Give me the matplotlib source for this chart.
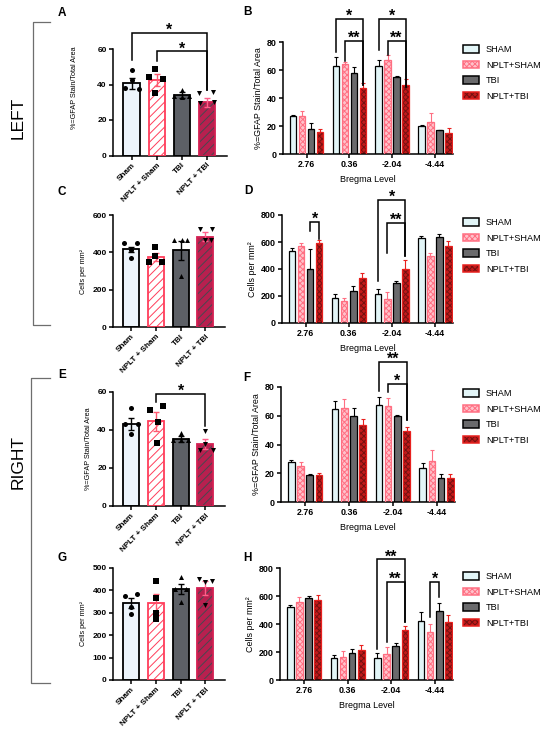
import numpy as np
import matplotlib.pyplot as plt
from matplotlib.patches import Patch
from matplotlib.legend_handler import HandlerTuple

plt.rcParams['font.family'] = ['Liberation Sans', 'DejaVu Sans']
plt.rcParams['font.weight'] = 'bold'
plt.rcParams['hatch.linewidth'] = 0.7

W, H = 550, 736

# ---------------- data ----------------
groups = ['Sham', 'NPLT + Sham', 'TBI', 'NPLT + TBI']
series = ['SHAM', 'NPLT+SHAM', 'TBI', 'NPLT+TBI']
bregma = ['2.76', '0.36', '-2.04', '-4.44']

# A: left, %GFAP area
a_mean = [40.6, 42.5, 34.0, 30.0]
a_sem = [3.0, 3.2, 1.5, 2.6]
a_pts = [[48, 42.5, 38, 37.5], [49, 44, 43, 35], [37, 33.5, 33, 33.5], [35, 35.5, 29.5, 30]]
# C: left, cells per mm2
c_mean = [416, 373, 410, 484]
c_sem = [14, 21, 50, 23]
c_pts = [[448, 448, 412, 371], [430, 383, 348, 348], [466, 466, 466, 274], [523, 525, 466, 464]]
# E: right, %GFAP area
e_mean = [43.1, 44.5, 35.4, 32.7]
e_sem = [3.2, 4.8, 1.6, 2.5]
e_pts = [[51.5, 43, 43, 38], [50.7, 52.4, 44.2, 33.1], [38.5, 35, 35, 35], [39.6, 29.6, 29.6, 32.7]]
# G: right, cells per mm2
g_mean = [343, 343, 406, 410]
g_sem = [23, 41, 24, 30]
g_pts = [[373, 385, 328, 296], [440, 366, 299, 273], [460, 407, 405, 348], [451, 437, 440, 336]]

# B / D / F / H: rows = series, columns = bregma level
b_mean = [[27, 63, 63, 20], [27, 64, 67, 23], [18, 58, 55, 17], [16, 47, 49, 15]]
b_sem = [[1, 6, 4, 1], [4, 2, 4, 6], [4, 4, 0.5, 0.5], [2, 3.5, 4.5, 3.5]]
d_mean = [[537, 185, 214, 633], [571, 160, 177, 493], [399, 234, 293, 635], [591, 333, 399, 574]]
d_sem = [[22, 29, 37, 12], [20, 25, 52, 29], [148, 42, 20, 23], [22, 36, 64, 34]]
f_mean = [[27.8, 64.9, 67.7, 23.9], [24.8, 65.6, 66.8, 28.5], [19, 59.8, 59.8, 16.9], [19, 53.8, 49.2, 16.9]]
f_sem = [[1.6, 5.4, 5.3, 3.5], [3, 5.8, 5.8, 7.5], [0.7, 5.6, 0.5, 2.3], [1.4, 4.2, 3, 2.3]]
h_mean = [[522, 154, 159, 425], [558, 161, 183, 344], [586, 190, 242, 494], [574, 214, 356, 413]]
h_sem = [[17, 24, 31, 62], [35, 45, 54, 55], [12, 35, 19, 59], [31, 35, 29, 50]]

# significance brackets: (bar i, bar j, top, left leg end, right leg end, label)
a_sig = [(0, 3, 69, 54, 37, '*'), (1, 3, 58.7, 53, 37, '*')]
e_sig = [(1, 3, 59, 55, 42, '*')]
# grouped: (bregma index, bar i, bar j, top, left leg end, right leg end, label)
b_sig = [(1, 0, 3, 96.5, 72.5, 49.5, '*'), (1, 1, 3, 81, 66.7, 49.5, '**'),
         (2, 0, 3, 96.5, 74.5, 48, '*'), (2, 1, 3, 81, 71, 48, '**')]
d_sig = [(0, 2, 3, 751, 680, 620, '*'), (2, 0, 3, 911, 308, 493, '*'),
         (2, 1, 3, 744, 522, 493, '**')]
f_sig = [(2, 0, 3, 97.4, 77, 56.8, '**'), (2, 1, 3, 82.3, 76.5, 56.8, '*')]
h_sig = [(2, 0, 3, 862, 225, 415, '**'), (2, 1, 3, 700, 268, 415, '**'),
         (3, 1, 2, 700, 451, 593, '*')]

# ---------------- styles ----------------
simple_style = [
    dict(face='#edf4fb', hatch=None, hcol='#edf4fb', edge='black', err='black'),
    dict(face='white', hatch='////', hcol='#ff3d5a', edge='#ff3d5a', err='#ff5a70'),
    dict(face='#5d6066', hatch=None, hcol='#5d6066', edge='black', err='black'),
    dict(face='#b8204f', hatch='////', hcol='#4a474f', edge='#d41f52', err='#ff5f8a'),
]
group_style = [
    dict(face='#e2f5f7', hatch=None, hcol='#e2f5f7', edge='black', err='black'),
    dict(face='#ffc2cb', hatch='xxxxxx', hcol='#ff6f82', edge='#ff6f82', err='#ff6f82'),
    dict(face='#6a6a6c', hatch=None, hcol='#6a6a6c', edge='black', err='black'),
    dict(face='#c01a1a', hatch='xxxxxx', hcol='#741010', edge='#e8201e', err='#e8201e'),
]
markers = ['o', 's', '^', 'v']
jitter = {
    'A': [[0, 0, -0.28, 0.28], [-0.05, -0.3, 0.25, -0.05], [0, -0.3, 0, 0.3], [-0.3, 0.25, -0.28, 0.28]],
    'C': [[-0.3, 0.23, 0, 0], [-0.03, -0.05, -0.29, 0.24], [-0.27, 0.04, 0.27, 0], [-0.23, 0.28, -0.03, 0.25]],
    'E': [[0, -0.25, 0.28, 0], [-0.24, 0.29, 0.07, 0.04], [0, -0.3, 0, 0.3], [0, -0.2, 0.3, 0]],
    'G': [[-0.27, 0.25, 0, 0], [0, 0, 0, 0], [0, -0.23, 0.23, 0], [-0.27, 0, 0.27, 0]],
}
offs = (np.arange(4) - 1.5) * 0.21


def px(l, t, r, b):
    return [l / W, 1 - b / H, (r - l) / W, (b - t) / H]


def two_layer_bar(ax, x, h, w, st, lw):
    ax.bar(x, h, w, color=st['face'], hatch=st['hatch'], edgecolor=st['hcol'],
           linewidth=0, zorder=2)
    ax.bar(x, h, w, fill=False, edgecolor=st['edge'], linewidth=lw, zorder=3)


def base_axes(ax, ylim, yticks, fs):
    ax.set_ylim(*ylim)
    ax.set_yticks(yticks)
    for s in ['top', 'right']:
        ax.spines[s].set_visible(False)
    for s in ['left', 'bottom']:
        ax.spines[s].set_linewidth(1.1)
    ax.tick_params(width=1.1, length=3, labelsize=fs, pad=1.5)


def bracket(ax, x1, x2, top, lb, rb, label, star_fs):
    ax.plot([x1, x1, x2, x2], [lb, top, top, rb], color='black', lw=1.1,
            clip_on=False, zorder=5, solid_joinstyle='miter')
    ax.annotate(label, xy=((x1 + x2) / 2, top), xytext=(0, -1.5),
                textcoords='offset points', ha='center', va='baseline',
                fontsize=star_fs, fontweight='bold', annotation_clip=False)


def simple_panel(ax, key, mean, sem, pts, ylim, yticks, ylabel, sig):
    x = np.arange(4)
    for k in range(4):
        st = simple_style[k]
        two_layer_bar(ax, x[k], mean[k], 0.65, st, 1.3)
        ax.errorbar(x[k], mean[k], yerr=sem[k], color=st['err'], lw=1.0,
                    capsize=2.5, capthick=1.0, zorder=4)
        ax.scatter(x[k] + np.array(jitter[key][k]), pts[k], marker=markers[k],
                   s=13, color='black', zorder=6, linewidths=0)
    base_axes(ax, ylim, yticks, 6.0)
    ax.set_xlim(-0.74, 3.8)
    ax.set_xticks(x)
    ax.set_xticklabels(groups, rotation=45, ha='right', rotation_mode='anchor', fontsize=5.9)
    ax.set_ylabel(ylabel, fontsize=5.2, labelpad=4)
    for i, j, top, lb, rb, lab in sig:
        bracket(ax, x[i], x[j], top, lb, rb, lab, 11.5)


def group_panel(ax, mean, sem, ylim, yticks, ylabel, sig, legend_top):
    g = np.arange(4)
    for k in range(4):
        st = group_style[k]
        xs = g + offs[k]
        for q in range(4):
            two_layer_bar(ax, xs[q], mean[k][q], 0.15, st, 0.9)
        ax.errorbar(xs, mean[k], yerr=[np.zeros(4), sem[k]], fmt='none',
                    ecolor=st['err'], elinewidth=0.8, capsize=1.6, capthick=0.8, zorder=4)
    base_axes(ax, ylim, yticks, 6.4)
    ax.set_xlim(-0.55, 3.42)
    ax.set_xticks(g)
    ax.set_xticklabels(bregma)
    ax.set_ylabel(ylabel, fontsize=6.4, labelpad=3)
    ax.set_xlabel('Bregma Level', fontsize=6.5, labelpad=4)
    for q, i, j, top, lb, rb, lab in sig:
        bracket(ax, q + offs[i], q + offs[j], top, lb, rb, lab, 11.5)
    handles = []
    for st in group_style:
        handles.append((Patch(facecolor=st['face'], hatch=st['hatch'], edgecolor=st['hcol'], linewidth=0),
                        Patch(fill=False, edgecolor=st['edge'], linewidth=1.1)))
    fig.legend(handles, series, loc='upper left', bbox_to_anchor=(463 / W, 1 - legend_top / H),
               frameon=False, borderpad=0, borderaxespad=0, handlelength=1.75, handleheight=0.95,
               handletextpad=0.75, labelspacing=0.7, prop=dict(size=6.6, weight='normal'),
               handler_map={tuple: HandlerTuple(ndivide=1)})


fig = plt.figure(figsize=(W / 100, H / 100), dpi=100)
gfap = '%=GFAP Stain/Total Area'
cells = 'Cells per mm²'

axA = fig.add_axes(px(113, 49, 227, 155.5))
simple_panel(axA, 'A', a_mean, a_sem, a_pts, (0, 60), [0, 20, 40, 60], gfap, a_sig)
axA.yaxis.set_label_coords(-0.31, 0.64)
axC = fig.add_axes(px(113, 215, 225, 327))
simple_panel(axC, 'C', c_mean, c_sem, c_pts, (0, 600), [0, 200, 400, 600], cells, [])
axE = fig.add_axes(px(113, 392, 225, 506))
simple_panel(axE, 'E', e_mean, e_sem, e_pts, (0, 60), [0, 20, 40, 60], gfap, e_sig)
axG = fig.add_axes(px(113, 568, 225, 680))
simple_panel(axG, 'G', g_mean, g_sem, g_pts, (0, 500), [0, 100, 200, 300, 400, 500], cells, [])

axB = fig.add_axes(px(283, 42, 453, 154))
group_panel(axB, b_mean, b_sem, (0, 80), [0, 20, 40, 60, 80], gfap, b_sig, 45)
axD = fig.add_axes(px(282, 215, 453, 323))
group_panel(axD, d_mean, d_sem, (0, 800), [0, 200, 400, 600, 800], cells, d_sig, 218)
axF = fig.add_axes(px(281, 387, 455, 502))
group_panel(axF, f_mean, f_sem, (0, 80), [0, 20, 40, 60, 80], gfap, f_sig, 389)
axH = fig.add_axes(px(280, 568, 453, 680))
group_panel(axH, h_mean, h_sem, (0, 800), [0, 200, 400, 600, 800], cells, h_sig, 572)

# panel letters
for lab, x, y in [('A', 62, 13), ('B', 247, 12), ('C', 62, 192), ('D', 248, 191),
                  ('E', 62, 375), ('F', 247, 378), ('G', 62, 558), ('H', 247, 558)]:
    fig.text(x / W, 1 - y / H, lab, fontsize=8.5, fontweight='bold', ha='center', va='center')

# LEFT / RIGHT side brackets
for lab, xv, top, bot, yc in [('LEFT', 33, 22, 325, 118), ('RIGHT', 31, 378, 683, 462)]:
    fig.add_artist(plt.Line2D(np.array([50, xv, xv, 50]) / W,
                              1 - np.array([top, top, bot, bot]) / H,
                              transform=fig.transFigure, color='#6e6e6e', lw=0.9))
    fig.text(18 / W, 1 - yc / H, lab, rotation=90, fontsize=12.5, fontweight='normal',
             ha='center', va='center')

fig.savefig('out.png', dpi=100)
